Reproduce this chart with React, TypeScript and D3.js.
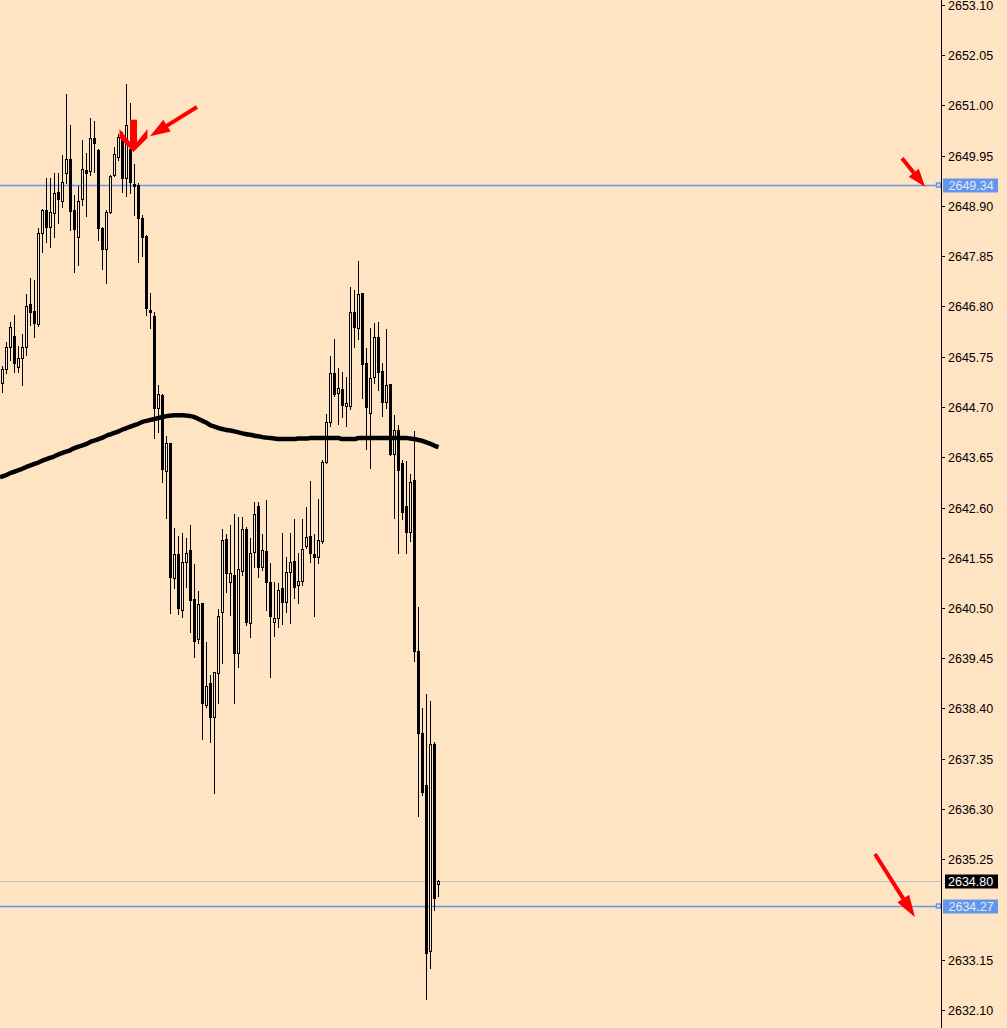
import React from "react";
import * as d3 from "d3";

// ---- Data ----
const opens = [
  2645.20, 2645.49, 2645.95, 2646.18, 2645.54, 2645.72, 2645.95, 2646.85, 2646.71, 2646.43,
  2648.33, 2648.81, 2648.46, 2648.75, 2649.19, 2649.00, 2649.59, 2649.88, 2648.81, 2648.25,
  2649.05, 2649.65, 2649.63, 2650.32, 2650.07, 2648.44, 2648.00, 2648.77, 2649.55, 2649.92,
  2650.28, 2649.48, 2650.09, 2649.36, 2649.34, 2648.65, 2648.27, 2646.73, 2646.60, 2644.68,
  2644.95, 2643.36, 2643.95, 2641.13, 2641.63, 2640.46, 2641.46, 2641.71, 2640.69, 2639.85,
  2640.60, 2638.47, 2638.93, 2638.22, 2639.14, 2640.42, 2641.94, 2641.04, 2641.19, 2639.56,
  2641.27, 2642.15, 2640.19, 2641.67, 2642.63, 2641.36, 2641.69, 2641.04, 2640.21, 2640.29,
  2640.92, 2640.62, 2641.25, 2641.48, 2640.98, 2641.06, 2641.80, 2642.00, 2641.63, 2641.57,
  2641.90, 2643.55, 2644.39, 2645.41, 2645.00, 2645.08, 2644.72, 2644.72, 2646.69, 2646.35,
  2647.08, 2645.62, 2644.57, 2645.33, 2646.16, 2645.45, 2644.80, 2645.18, 2643.72, 2644.22,
  2643.53, 2642.63, 2642.09, 2643.17, 2639.60, 2637.89, 2636.80, 2633.33, 2637.66, 2634.74,
];
const highs = [
  2645.56, 2646.06, 2646.48, 2646.62, 2645.98, 2646.23, 2647.06, 2647.40, 2647.35, 2648.44,
  2648.84, 2649.48, 2649.48, 2649.59, 2649.59, 2649.97, 2651.24, 2650.59, 2649.13, 2649.32,
  2650.28, 2650.01, 2650.74, 2650.67, 2650.09, 2648.46, 2648.81, 2649.55, 2650.13, 2650.41,
  2650.45, 2651.45, 2651.06, 2649.78, 2649.38, 2648.71, 2648.29, 2647.08, 2646.69, 2645.16,
  2644.97, 2644.09, 2643.95, 2642.17, 2642.00, 2642.07, 2641.96, 2642.23, 2641.42, 2640.85,
  2640.60, 2639.79, 2639.10, 2639.16, 2640.48, 2642.15, 2642.05, 2642.23, 2642.46, 2642.40,
  2642.40, 2642.19, 2641.96, 2642.71, 2642.71, 2642.05, 2642.76, 2641.44, 2641.04, 2641.02,
  2642.07, 2641.57, 2642.07, 2642.36, 2641.65, 2642.36, 2642.61, 2643.15, 2642.05, 2642.78,
  2643.59, 2644.55, 2645.77, 2646.12, 2645.51, 2645.43, 2645.33, 2647.21, 2647.15, 2647.75,
  2647.08, 2645.93, 2646.35, 2646.46, 2646.48, 2645.62, 2646.33, 2645.18, 2644.53, 2644.32,
  2643.59, 2643.57, 2643.30, 2644.20, 2640.52, 2638.41, 2638.70, 2638.56, 2637.70, 2634.82,
];
const lows = [
  2645.01, 2645.41, 2645.68, 2645.43, 2645.43, 2645.16, 2645.79, 2646.41, 2646.16, 2646.39,
  2647.94, 2648.15, 2648.04, 2648.25, 2648.54, 2648.88, 2649.38, 2648.40, 2647.52, 2647.67,
  2648.92, 2648.69, 2649.55, 2649.61, 2648.19, 2647.58, 2647.29, 2648.75, 2649.53, 2649.86,
  2649.19, 2649.11, 2649.17, 2648.71, 2647.73, 2647.86, 2646.62, 2646.35, 2644.05, 2644.18,
  2643.13, 2642.38, 2640.40, 2640.92, 2640.37, 2640.31, 2640.94, 2639.99, 2639.48, 2639.77,
  2637.76, 2638.43, 2637.70, 2636.63, 2638.51, 2639.35, 2640.83, 2640.35, 2638.51, 2639.27,
  2641.19, 2640.14, 2639.89, 2641.36, 2641.15, 2641.29, 2640.46, 2639.06, 2639.91, 2640.10,
  2640.17, 2640.42, 2640.19, 2640.71, 2640.60, 2640.98, 2641.75, 2641.46, 2640.33, 2641.44,
  2641.86, 2643.53, 2644.30, 2644.93, 2644.34, 2644.49, 2644.30, 2644.66, 2645.95, 2646.12,
  2644.89, 2643.82, 2643.43, 2645.20, 2645.06, 2644.51, 2644.68, 2643.70, 2642.38, 2641.65,
  2642.36, 2641.65, 2641.90, 2639.39, 2636.15, 2636.59, 2632.33, 2632.98, 2634.19, 2634.48,
];
const closes = [
  2645.49, 2645.95, 2646.37, 2645.62, 2645.72, 2645.95, 2646.81, 2646.69, 2646.46, 2648.33,
  2648.81, 2648.46, 2648.77, 2649.17, 2649.05, 2649.40, 2649.88, 2648.79, 2648.42, 2649.00,
  2649.67, 2649.59, 2650.32, 2650.22, 2648.44, 2648.00, 2648.77, 2649.53, 2649.99, 2650.34,
  2649.48, 2650.59, 2649.40, 2649.32, 2648.65, 2648.25, 2646.77, 2646.69, 2644.68, 2644.97,
  2643.41, 2643.95, 2641.15, 2641.63, 2640.50, 2641.46, 2641.65, 2640.67, 2639.81, 2640.58,
  2638.51, 2638.87, 2638.22, 2639.16, 2640.33, 2641.92, 2641.23, 2641.23, 2639.56, 2641.31,
  2642.15, 2640.21, 2641.65, 2642.46, 2641.36, 2641.71, 2641.04, 2640.33, 2640.29, 2640.88,
  2640.62, 2641.25, 2641.46, 2640.94, 2641.06, 2641.73, 2641.98, 2641.65, 2641.57, 2641.92,
  2643.55, 2644.39, 2645.41, 2644.97, 2645.10, 2644.74, 2644.78, 2646.69, 2646.37, 2647.06,
  2645.60, 2644.70, 2645.31, 2646.16, 2645.43, 2644.80, 2645.16, 2643.72, 2644.22, 2643.38,
  2642.50, 2642.09, 2643.13, 2639.60, 2637.89, 2636.65, 2633.29, 2637.66, 2634.44, 2634.80,
];
const maValues = [
  2643.25, 2643.28, 2643.32, 2643.35, 2643.38, 2643.41, 2643.45, 2643.48, 2643.51, 2643.54,
  2643.58, 2643.61, 2643.64, 2643.67, 2643.71, 2643.74, 2643.77, 2643.80, 2643.84, 2643.87,
  2643.90, 2643.93, 2643.97, 2644.00, 2644.03, 2644.06, 2644.10, 2644.13, 2644.16, 2644.19,
  2644.23, 2644.26, 2644.29, 2644.32, 2644.35, 2644.39, 2644.41, 2644.43, 2644.45, 2644.47,
  2644.49, 2644.51, 2644.52, 2644.53, 2644.53, 2644.53, 2644.52, 2644.51, 2644.49, 2644.45,
  2644.41, 2644.37, 2644.32, 2644.29, 2644.26, 2644.24, 2644.22, 2644.21, 2644.19, 2644.17,
  2644.15, 2644.13, 2644.12, 2644.10, 2644.09, 2644.07, 2644.06, 2644.05, 2644.04, 2644.03,
  2644.03, 2644.03, 2644.03, 2644.03, 2644.04, 2644.04, 2644.04, 2644.05, 2644.05, 2644.05,
  2644.05, 2644.05, 2644.05, 2644.05, 2644.05, 2644.03, 2644.03, 2644.03, 2644.03, 2644.05,
  2644.05, 2644.05, 2644.05, 2644.05, 2644.05, 2644.05, 2644.05, 2644.05, 2644.05, 2644.05,
  2644.05, 2644.05, 2644.04, 2644.03, 2644.01, 2643.99, 2643.96, 2643.93, 2643.89, 2643.86,
];
const tickLabels = [
  "2653.10", "2652.05", "2651.00", "2649.95", "2648.90", "2647.85", "2646.80",
  "2645.75", "2644.70", "2643.65", "2642.60", "2641.55", "2640.50", "2639.45",
  "2638.40", "2637.35", "2636.30", "2635.25", "2633.15", "2632.10",
];
const levelLines = [2649.34, 2634.27];
const levelLabels = ["2649.34", "2634.27"];
const currentPrice = 2634.8;
const currentLabel = "2634.80";
// arrows: from (index, price) to (index, price)
const arrowFromIdx = [48.75, 225, 218.25];
const arrowFromPrice = [2650.97, 2649.9, 2635.36];
const arrowToIdx = [37, 230.75, 228.25];
const arrowToPrice = [2650.36, 2649.3, 2634.04];
const downArrowIdx = 32.875;
const downArrowTipPrice = 2650.03;
const downArrowTopPrice = 2650.7;

const BG = "#FFE4C4";
const BLUE = "#6495ED";
const RED = "#FF0000";
const FONT = "'Liberation Sans', Arial, sans-serif";

function arrowPoints(x1: number, y1: number, x2: number, y2: number, sw: number, hl: number, hw: number) {
  const dx = x2 - x1, dy = y2 - y1;
  const len = Math.hypot(dx, dy);
  const ux = dx / len, uy = dy / len;
  const px = -uy, py = ux;
  const bx = x2 - ux * hl, by = y2 - uy * hl;
  const pts = [
    [x1 + (px * sw) / 2, y1 + (py * sw) / 2],
    [bx + (px * sw) / 2, by + (py * sw) / 2],
    [bx + (px * hw) / 2, by + (py * hw) / 2],
    [x2, y2],
    [bx - (px * hw) / 2, by - (py * hw) / 2],
    [bx - (px * sw) / 2, by - (py * sw) / 2],
    [x1 - (px * sw) / 2, y1 - (py * sw) / 2],
  ];
  return pts.map((p) => p.join(",")).join(" ");
}

export default function App() {
  const W = 1007, H = 1028;
  const axisX = 941;
  const y = d3.scaleLinear().domain([2632.1, 2653.1]).range([1010, 5]);
  const x = d3.scaleLinear().domain([0, 109]).range([2, 438]);

  const maPts: [number, number][] = maValues.map((d, i) => [x(i) + 0.5, y(d)]);
  // line continues to the left edge of the plot, as in the terminal
  const maLine = d3.line().curve(d3.curveMonotoneX)([[0, maPts[0][1] + 0.8], ...maPts]) as string;

  const candles = opens.map((o, i) => {
    const c = closes[i], h = highs[i], l = lows[i];
    const cx = Math.round(x(i));
    const yt = Math.round(y(Math.max(o, c)));
    const yb = Math.round(y(Math.min(o, c)));
    const yh = Math.round(y(h));
    const yl = Math.round(y(l));
    const bull = c >= o;
    return (
      <g key={i}>
        <line x1={cx + 0.5} x2={cx + 0.5} y1={yh} y2={yl + 1} stroke="#000" strokeWidth={1} />
        {bull ? (
          <rect x={cx - 0.5} y={yt + 0.5} width={2} height={Math.max(0, yb - yt)} fill={BG} stroke="#000" strokeWidth={1} />
        ) : (
          <rect x={cx - 1} y={yt} width={3} height={Math.max(1, yb - yt + 1)} fill="#000" />
        )}
      </g>
    );
  });

  const tipX = x(downArrowIdx);
  const tipY = y(downArrowTipPrice);
  const topY = y(downArrowTopPrice);
  const downArrow = [
    [tipX - 3.5, topY], [tipX + 3.5, topY], [tipX + 3.5, tipY - 10], [tipX + 14, tipY - 23],
    [tipX + 14, tipY - 14], [tipX, tipY], [tipX - 14, tipY - 14], [tipX - 14, tipY - 23],
    [tipX - 3.5, tipY - 10],
  ].map((p) => p.join(",")).join(" ");

  const arrowStyles = [
    { sw: 4, hl: 20, hw: 14 },
    { sw: 4, hl: 18, hw: 13 },
    { sw: 4, hl: 22, hw: 14 },
  ];

  const curY = Math.round(y(currentPrice)) + 0.5;

  return (
    <svg width={W} height={H} style={{ position: "absolute", left: 0, top: 0, display: "block" }}>
      <rect x={0} y={0} width={W} height={H} fill={BG} />
      {/* level lines */}
      <line x1={0} x2={axisX} y1={curY} y2={curY} stroke="#C0C0C0" strokeWidth={1} />
      {levelLines.map((v, i) => {
        const yy = Math.round(y(v)) + 0.5;
        return (
          <g key={"lv" + i}>
            <line x1={0} x2={936} y1={yy} y2={yy} stroke={BLUE} strokeWidth={1.5} />
            <rect x={936.5} y={yy - 2.5} width={4} height={4} fill={BG} stroke={BLUE} strokeWidth={1.5} />
          </g>
        );
      })}
      {/* candles */}
      <g shapeRendering="crispEdges">{candles}</g>
      {/* moving average */}
      <path d={maLine} fill="none" stroke="#000" strokeWidth={4.5} strokeLinejoin="round" />
      {/* annotations */}
      <polygon points={downArrow} fill={RED} />
      {arrowFromIdx.map((fi, i) => (
        <polygon
          key={"ar" + i}
          points={arrowPoints(x(fi), y(arrowFromPrice[i]), x(arrowToIdx[i]), y(arrowToPrice[i]), arrowStyles[i].sw, arrowStyles[i].hl, arrowStyles[i].hw)}
          fill={RED}
        />
      ))}
      {/* price axis */}
      <line x1={axisX + 0.5} x2={axisX + 0.5} y1={0} y2={H} stroke="#000" strokeWidth={1} />
      {tickLabels.map((t) => {
        const yy = Math.round(y(parseFloat(t))) + 0.5;
        return (
          <g key={t}>
            <line x1={axisX} x2={axisX + 4} y1={yy} y2={yy} stroke="#000" strokeWidth={1} />
            <text x={948} y={yy} dy="0.36em" fontFamily={FONT} fontSize={12.5} fill="#000">{t}</text>
          </g>
        );
      })}
      {levelLines.map((v, i) => {
        const yy = Math.round(y(v)) + 0.5;
        return (
          <g key={"ll" + i}>
            <rect x={943} y={yy - 7} width={55} height={14} fill={BLUE} />
            <text x={948.5} y={yy} dy="0.36em" fontFamily={FONT} fontSize={12.5} fill="#E4EAF6">{levelLabels[i]}</text>
          </g>
        );
      })}
      <rect x={945} y={curY - 7} width={53} height={14} fill="#000" />
      <text x={948} y={curY} dy="0.36em" fontFamily={FONT} fontSize={12.5} fill="#fff">{currentLabel}</text>
    </svg>
  );
}
